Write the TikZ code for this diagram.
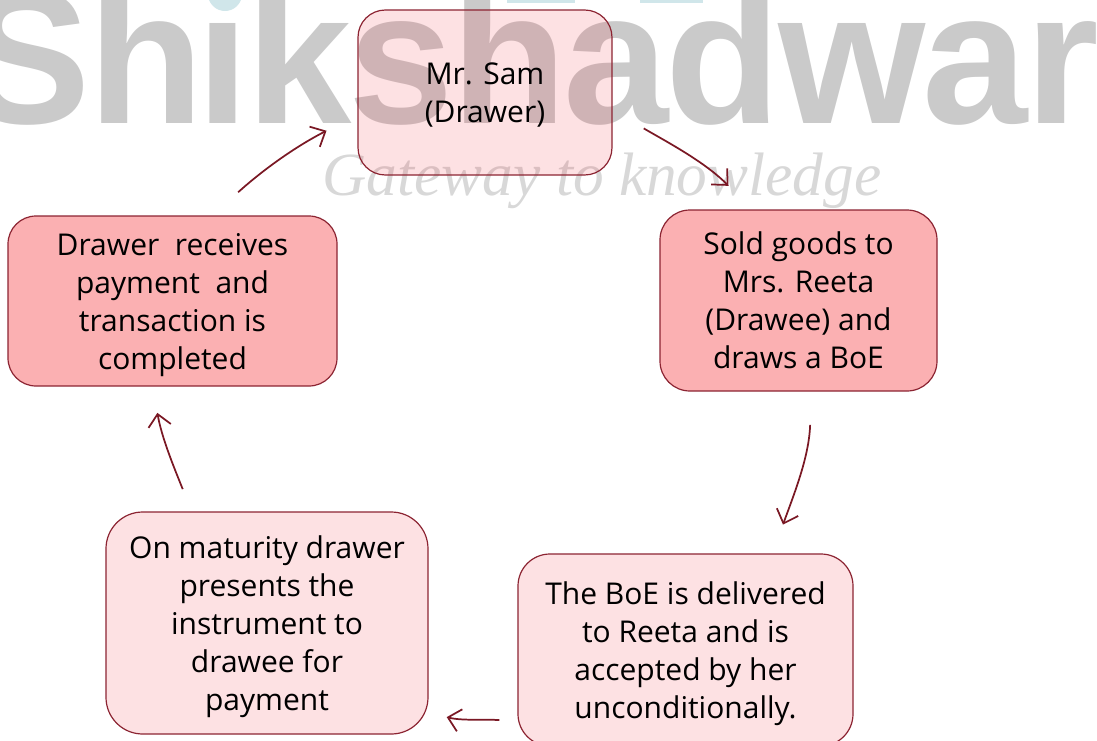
\documentclass[tikz,border=0pt]{standalone}
\usepackage{fontspec}
\setmainfont{Open Sans}
\newfontfamily\markfont[LetterSpace=-1.6]{Liberation Sans}
\newfontfamily\tagfont{Liberation Serif}
\usetikzlibrary{arrows.meta}
\definecolor{flowred}{RGB}{122,24,36}
\definecolor{edgered}{RGB}{140,36,50}
\definecolor{palered}{RGB}{241,53,66}
\definecolor{deepred}{RGB}{251,176,178}
\definecolor{markgray}{RGB}{202,202,202}
\definecolor{taggray}{RGB}{216,216,216}
\definecolor{dotteal}{RGB}{208,230,234}
\tikzset{
	boxtext/.style={align=center,inner sep=0pt,text depth=0pt,font=\fontsize{22.5}{28.5}\selectfont},
	pale/.style={boxtext,draw=edgered,line width=0.9pt,fill=palered,fill opacity=0.15,draw opacity=1,text opacity=1},
	deep/.style={boxtext,draw=edgered,line width=0.9pt,fill=deepred},
	flow/.style={draw=flowred,line width=1.3pt,-{Straight Barb[length=9pt,width=17pt]}}
}
\begin{document}
\begin{tikzpicture}[x=0.75pt,y=-0.75pt]
	\useasboundingbox (0,0) rectangle (1097,740);
	\clip (0,0) rectangle (1097,740);
	\fill [dotteal] (225,-6) circle (17);
	\fill [dotteal] (507,-4) rectangle (575,3);
	\fill [dotteal] (640,-4) rectangle (703,3);
	\node (mark) [anchor=base east,text=markgray,inner sep=0pt,font=\markfont\bfseries\fontsize{142}{142}\selectfont] at (1099,123) {Sh\kern-5ptıkshadwar};
	\node (tag) [anchor=base,text=taggray,inner sep=0pt,font=\tagfont\itshape\fontsize{46}{46}\selectfont] at (602,195) {Gateway to knowledge};
	\node (sam) [pale,rounded corners=20.5pt,minimum width=190.5pt,minimum height=123.75pt] at (485,92.5) {Mr. Sam\\(Drawer)};
	\node (sold) [deep,rounded corners=22.5pt,minimum width=207.75pt,minimum height=135.75pt] at (798.5,300.5) {Sold goods to\\Mrs. Reeta\\(Drawee) and\\draws a BoE};
	\node (boe) [pale,rounded corners=24pt,minimum width=251.25pt,minimum height=144pt] at (685.5,650) {The BoE is delivered\\to Reeta and is\\accepted by her\\unconditionally.};
	\node (maturity) [pale,rounded corners=27.5pt,minimum width=241.5pt,minimum height=166.5pt] at (267,623) {On maturity drawer\\presents the\\instrument to\\drawee for\\payment};
	\node (drawer) [deep,rounded corners=21pt,minimum width=246.75pt,minimum height=127.5pt] at (172.5,301) {Drawer~ receives\\payment~ and\\transaction is\\completed};
	\draw [flow,shorten <=27pt,shorten >=25pt] (sam.-8) to [out=-30,in=135] (sold.117);
	\draw [flow,shorten <=25pt,shorten >=23pt] (sold.-82) to [out=-92,in=70] (boe.48);
	\draw [flow,shorten <=13.5pt,shorten >=14pt] (boe.203) to [out=176,in=-14] (maturity.-29);
	\draw [flow,shorten <=18pt,shorten >=20pt] (maturity.124) to [out=112,in=-80] (drawer.257);
	\draw [flow,shorten <=26pt,shorten >=26pt] (drawer.65) to [out=42,in=207] (sam.190);
\end{tikzpicture}
\end{document}
